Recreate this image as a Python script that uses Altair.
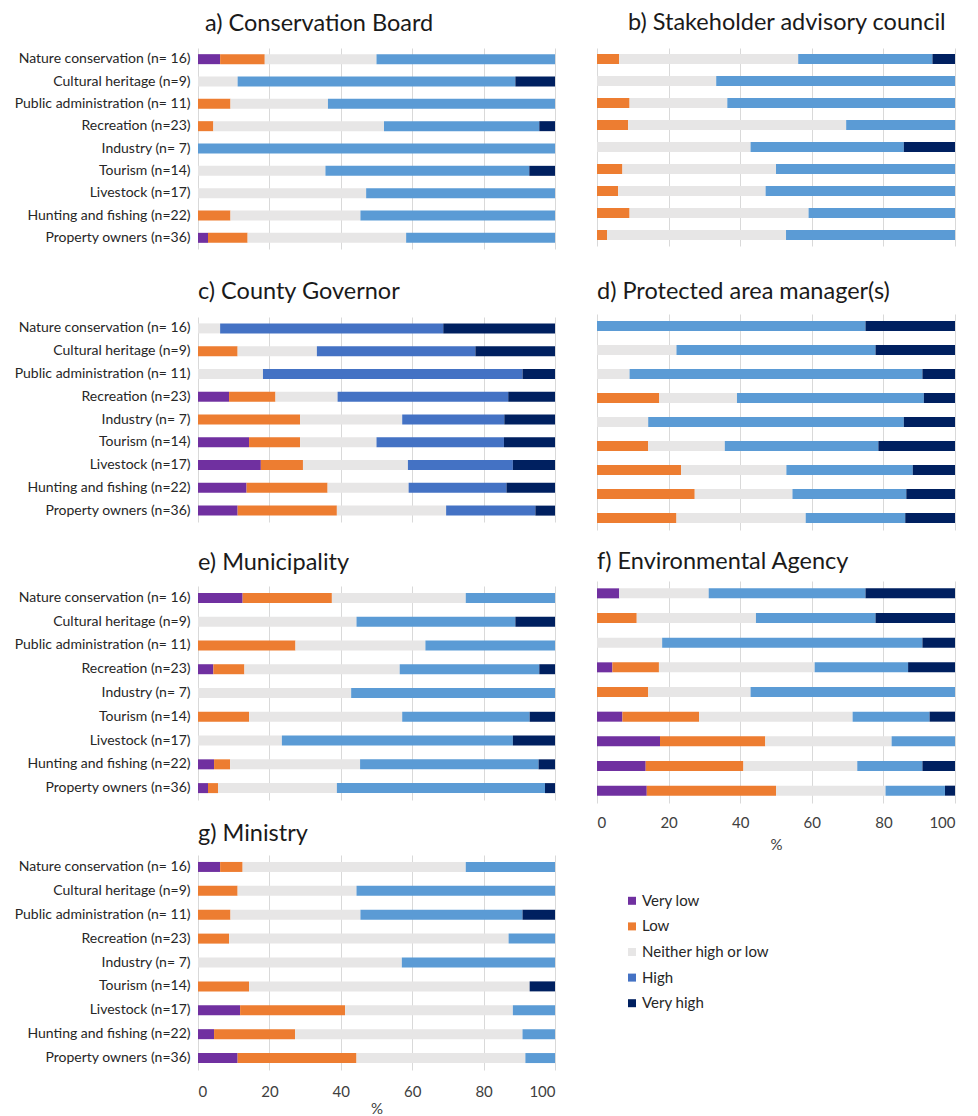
import altair as alt
import pandas as pd

FONT = "Lato"

GROUPS = [
    "Nature conservation (n= 16)",
    "Cultural heritage (n=9)",
    "Public administration (n= 11)",
    "Recreation (n=23)",
    "Industry (n= 7)",
    "Tourism (n=14)",
    "Livestock (n=17)",
    "Hunting and fishing (n=22)",
    "Property owners (n=36)",
]
LEVELS = ["Very low", "Low", "Neither high or low", "High", "Very high"]

BASE_COLORS = ["#7030A0", "#ED7D31", "#E7E6E6", "#5B9BD5", "#002060"]
COUNTY_COLORS = ["#7030A0", "#ED7D31", "#E7E6E6", "#4472C4", "#002060"]
LEGEND_COLORS = ["#7030A0", "#ED7D31", "#E7E6E6", "#4472C4", "#002060"]

# percentages per stakeholder group (same order as GROUPS)
conservation_board = {
    "Very low": [6.2, 0, 0, 0, 0, 0, 0, 0, 2.8],
    "Low": [12.5, 0, 9.1, 4.3, 0, 0, 0, 9.1, 11.1],
    "Neither high or low": [31.3, 11.1, 27.3, 47.8, 0, 35.7, 47.1, 36.4, 44.4],
    "High": [50.0, 77.8, 63.6, 43.5, 100, 57.1, 52.9, 54.5, 41.7],
    "Very high": [0, 11.1, 0, 4.4, 0, 7.2, 0, 0, 0],
}
stakeholder_council = {
    "Very low": [0, 0, 0, 0, 0, 0, 0, 0, 0],
    "Low": [6.2, 0, 9.1, 8.7, 0, 7.1, 5.9, 9.1, 2.8],
    "Neither high or low": [50.0, 33.3, 27.3, 60.9, 42.9, 42.9, 41.2, 50.0, 50.0],
    "High": [37.5, 66.7, 63.6, 30.4, 42.8, 50.0, 52.9, 40.9, 47.2],
    "Very high": [6.3, 0, 0, 0, 14.3, 0, 0, 0, 0],
}
county_governor = {
    "Very low": [0, 0, 0, 8.7, 0, 14.3, 17.6, 13.6, 11.1],
    "Low": [0, 11.1, 0, 13.0, 28.6, 14.3, 11.8, 22.7, 27.8],
    "Neither high or low": [6.2, 22.2, 18.2, 17.4, 28.6, 21.4, 29.4, 22.7, 30.6],
    "High": [62.5, 44.4, 72.7, 47.8, 28.6, 35.7, 29.4, 27.4, 25.0],
    "Very high": [31.3, 22.3, 9.1, 13.1, 14.2, 14.3, 11.8, 13.6, 5.5],
}
area_managers = {
    "Very low": [0, 0, 0, 0, 0, 0, 0, 0, 0],
    "Low": [0, 0, 0, 17.4, 0, 14.3, 23.5, 27.3, 22.2],
    "Neither high or low": [0, 22.2, 9.1, 21.7, 14.3, 21.4, 29.4, 27.3, 36.1],
    "High": [75.0, 55.6, 81.8, 52.2, 71.4, 42.9, 35.3, 31.8, 27.8],
    "Very high": [25.0, 22.2, 9.1, 8.7, 14.3, 21.4, 11.8, 13.6, 13.9],
}
municipality = {
    "Very low": [12.5, 0, 0, 4.3, 0, 0, 0, 4.5, 2.8],
    "Low": [25.0, 0, 27.3, 8.7, 0, 14.3, 0, 4.5, 2.8],
    "Neither high or low": [37.5, 44.4, 36.4, 43.5, 42.9, 42.9, 23.5, 36.4, 33.3],
    "High": [25.0, 44.5, 36.3, 39.1, 57.1, 35.7, 64.7, 50.0, 58.3],
    "Very high": [0, 11.1, 0, 4.4, 0, 7.1, 11.8, 4.6, 2.8],
}
environmental_agency = {
    "Very low": [6.2, 0, 0, 4.3, 0, 7.1, 17.6, 13.6, 13.9],
    "Low": [0, 11.1, 0, 13.0, 14.3, 21.4, 29.4, 27.3, 36.1],
    "Neither high or low": [25.0, 33.3, 18.2, 43.5, 28.6, 42.9, 35.3, 31.8, 30.6],
    "High": [43.8, 33.4, 72.7, 26.1, 57.1, 21.5, 17.7, 18.2, 16.6],
    "Very high": [25.0, 22.2, 9.1, 13.1, 0, 7.1, 0, 9.1, 2.8],
}
ministry = {
    "Very low": [6.2, 0, 0, 0, 0, 0, 11.8, 4.5, 11.1],
    "Low": [6.3, 11.1, 9.1, 8.7, 0, 14.3, 29.4, 22.7, 33.3],
    "Neither high or low": [62.5, 33.3, 36.4, 78.3, 57.1, 78.6, 47.0, 63.7, 47.3],
    "High": [25.0, 55.6, 45.4, 13.0, 42.9, 0, 11.8, 9.1, 8.3],
    "Very high": [0, 0, 9.1, 0, 0, 7.1, 0, 0, 0],
}


def to_frame(values):
    rows = []
    for k, level in enumerate(LEVELS):
        for group, v in zip(GROUPS, values[level]):
            if v > 0:
                rows.append({"group": group, "level": level, "order": k, "value": v})
    return pd.DataFrame(rows)


LEFT_W = 357
RIGHT_W = 358


def panel(title, values, colors, width, height, labels, xaxis, t_offset, t_dx=0,
          lab_pad=12, tit_pad=7):
    if labels:
        y_axis = alt.Axis(
            title=None, ticks=False, domain=False, grid=False,
            labelFont=FONT, labelFontSize=14, labelColor="#262626",
            labelPadding=8, labelLimit=400, minExtent=190, maxExtent=190,
        )
    else:
        y_axis = None
    if xaxis:
        x_axis = alt.Axis(
            values=[0, 20, 40, 60, 80, 100], grid=True, gridColor="#D9D9D9",
            ticks=False, domain=False, labelFont=FONT, labelFontSize=15,
            labelColor="#404040", labelPadding=lab_pad, title="%",
            titleFont=FONT, titleFontSize=15, titleFontWeight="normal",
            titleColor="#404040", titlePadding=tit_pad,
        )
    else:
        x_axis = alt.Axis(
            values=[0, 20, 40, 60, 80, 100], grid=True, gridColor="#D9D9D9",
            ticks=False, domain=False, labels=False, title=None,
            minExtent=0, maxExtent=0,
        )
    return alt.Chart(to_frame(values)).mark_bar(size=10).encode(
        x=alt.X("value:Q", stack="zero",
                scale=alt.Scale(domain=[0, 100], nice=False, clamp=True),
                axis=x_axis),
        y=alt.Y("group:N", sort=GROUPS, axis=y_axis,
                scale=alt.Scale(paddingInner=0, paddingOuter=0)),
        color=alt.Color("level:N", scale=alt.Scale(domain=LEVELS, range=colors), legend=None),
        order=alt.Order("order:Q", sort="ascending"),
    ).properties(
        width=width, height=height,
        title=alt.TitleParams(
            title, anchor="start", frame="group", offset=t_offset, dx=t_dx,
            font=FONT, fontSize=23.5, fontWeight="normal", color="#1a1a1a",
        ),
    )


pa = panel("a) Conservation Board", conservation_board, BASE_COLORS, LEFT_W, 201, True, False, 12.5, 7)
pc = panel("c) County Governor", county_governor, COUNTY_COLORS, LEFT_W, 205, True, False, 13.5)
pe = panel("e) Municipality", municipality, BASE_COLORS, LEFT_W, 214, True, False, 11.5)
pg = panel("g) Ministry", ministry, BASE_COLORS, LEFT_W, 215, True, True, 9.5, 0, 14, 2)

pb = panel("b) Stakeholder advisory council", stakeholder_council, BASE_COLORS, RIGHT_W, 198, False, False, 13.5, 31)
pd_ = panel("d) Protected area manager(s)", area_managers, BASE_COLORS, RIGHT_W, 216, False, False, 10.5)
pf = panel("f) Environmental Agency", environmental_agency, BASE_COLORS, RIGHT_W, 222, False, True, 7.5, 0, 12, 7)

legend_df = pd.DataFrame({"level": LEVELS})
lg_base = alt.Chart(legend_df).encode(
    y=alt.Y("level:N", sort=LEVELS, axis=None,
            scale=alt.Scale(paddingInner=0, paddingOuter=0)),
)
lg_sq = lg_base.mark_square(size=64, opacity=1).encode(
    x=alt.value(35),
    color=alt.Color("level:N", scale=alt.Scale(domain=LEVELS, range=LEGEND_COLORS), legend=None),
)
lg_tx = lg_base.mark_text(align="left", baseline="middle", font=FONT, fontSize=15, color="#262626").encode(
    x=alt.value(45), text="level:N",
)
legend = alt.layer(lg_sq, lg_tx).properties(width=RIGHT_W, height=128)

RES = dict(x="independent", y="independent", color="independent")

left = alt.vconcat(
    alt.vconcat(
        alt.vconcat(pa, pc, spacing=31).resolve_scale(**RES),
        pe, spacing=29).resolve_scale(**RES),
    pg, spacing=22).resolve_scale(**RES)
right = alt.vconcat(
    alt.vconcat(
        alt.vconcat(pb, pd_, spacing=34).resolve_scale(**RES),
        pf, spacing=20).resolve_scale(**RES),
    legend, spacing=36).resolve_scale(**RES)

chart = alt.hconcat(left, right, spacing=42).resolve_scale(**RES).properties(
    padding={"left": 0, "top": 3, "right": 4, "bottom": 2}, background="white"
).configure_view(stroke=None)

chart.save("out.html", embed_options={"renderer": "svg", "actions": False})
